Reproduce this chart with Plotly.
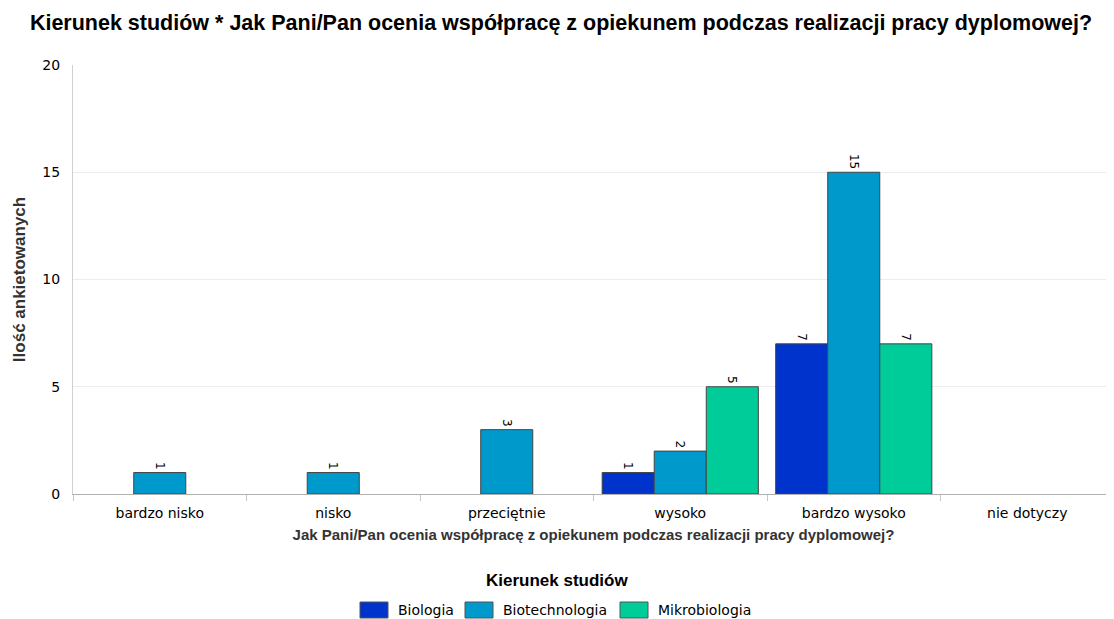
import plotly.graph_objects as go

categories = ["bardzo nisko", "nisko", "przeciętnie", "wysoko", "bardzo wysoko", "nie dotyczy"]
biologia = [None, None, None, 1, 7, None]
biotechnologia = [1, 1, 3, 2, 15, None]
mikrobiologia = [None, None, None, 5, 7, None]
y_ticks = [0, 5, 10, 15, 20]

series = [
    ("Biologia", biologia, "#0033CC"),
    ("Biotechnologia", biotechnologia, "#0099CC"),
    ("Mikrobiologia", mikrobiologia, "#00CC99"),
]

# the page body adds an 8px margin, so the figure is a bit smaller than the window
OFF = 8
W, H = 1106, 611
L, R, T, B = 65, 0, 57, 125


def px_x(px):
    return (px - OFF - L) / (W - L - R)


def px_y(py):
    return 1 - (py - OFF - T) / (H - T - B)


fig = go.Figure()
for name, values, color in series:
    fig.add_trace(go.Bar(
        x=categories, y=values, name=name, showlegend=False,
        marker=dict(color=color, line=dict(color="#444444", width=1)),
        text=[str(v) if v is not None else "" for v in values],
        textposition="outside", textangle=90, cliponaxis=False,
        textfont=dict(family="DejaVu Sans", size=12, color="#000000"),
    ))

# legend drawn by hand: large rectangular swatches like the original
legend_font = dict(family="DejaVu Sans", size=14, color="#000000")
swatch_left = [360, 465, 620]
fig.add_annotation(
    text="<b>Kierunek studiów</b>", xref="paper", yref="paper",
    x=px_x(557), y=px_y(580), showarrow=False, xanchor="center", yanchor="middle",
    font=dict(family="Liberation Sans", size=17, color="#000000"),
)
for (name, _, color), sx in zip(series, swatch_left):
    fig.add_shape(
        type="rect", xref="paper", yref="paper",
        x0=px_x(sx), x1=px_x(sx + 28), y0=px_y(602), y1=px_y(618),
        fillcolor=color, line=dict(color="#555555", width=1),
    )
    fig.add_annotation(
        text=name, xref="paper", yref="paper",
        x=px_x(sx + 36), y=px_y(610), showarrow=False, xanchor="left", yanchor="middle",
        font=legend_font,
    )

fig.update_layout(
    width=W, height=H,
    margin=dict(l=L, r=R, t=T, b=B),
    paper_bgcolor="white", plot_bgcolor="white",
    barmode="group", bargap=0.1, bargroupgap=0,
    showlegend=False,
    title=dict(
        text="Kierunek studiów * Jak Pani/Pan ocenia współpracę z opiekunem podczas realizacji pracy dyplomowej?",
        x=0.5, xanchor="center", y=0.977, yanchor="middle",
        font=dict(family="Liberation Sans", size=21.5, color="#000000", weight="bold"),
    ),
    xaxis=dict(
        showgrid=False, showline=True, linecolor="#b0b0b0", linewidth=1,
        ticks="outside", tickson="boundaries", ticklen=6, tickcolor="#c8c8c8",
        tickfont=dict(family="DejaVu Sans", size=14, color="#000000"),
        ticklabelstandoff=6,
        title=dict(
            text="Jak Pani/Pan ocenia współpracę z opiekunem podczas realizacji pracy dyplomowej?",
            font=dict(family="Liberation Sans", size=15, color="#333333", weight="bold"),
            standoff=9,
        ),
        automargin=False,
    ),
    yaxis=dict(
        range=[0, 20], tickvals=y_ticks, showgrid=True, gridcolor="#ececec",
        showline=True, linecolor="#d0d0d0", zeroline=False,
        ticks="", tickfont=dict(family="DejaVu Sans", size=14, color="#000000"),
        ticklabelstandoff=9,
        title=dict(
            text="Ilość ankietowanych",
            font=dict(family="Liberation Sans", size=17, color="#333333", weight="bold"),
            standoff=12,
        ),
        automargin=False,
    ),
)

fig.write_html("out.html")
